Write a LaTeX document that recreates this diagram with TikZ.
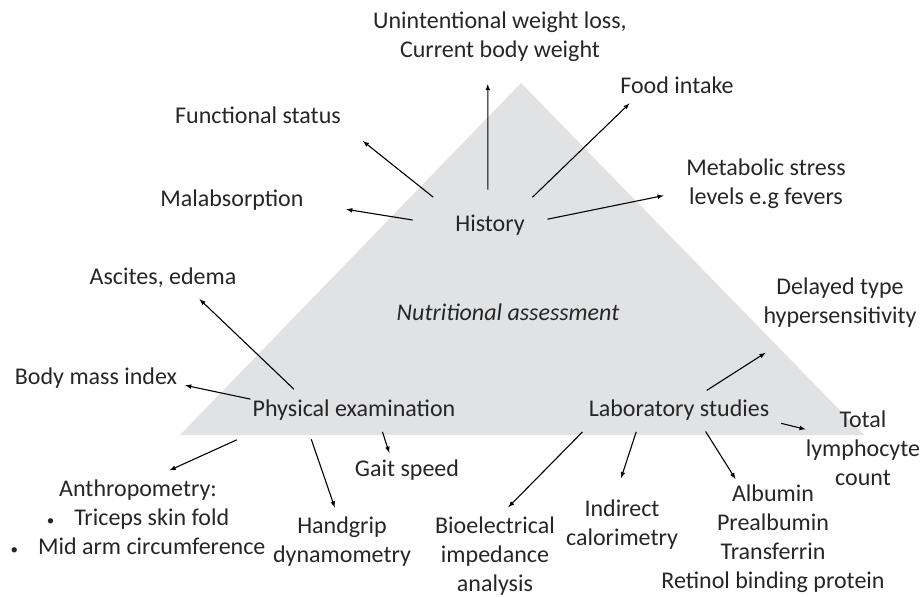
\documentclass[tikz,border=0pt]{standalone}
\usepackage{fontspec}
\setmainfont{Carlito}
\usepackage{tikz}

\definecolor{trigray}{RGB}{225,226,228}
\definecolor{txtgray}{RGB}{38,38,38}
\newcommand{\smbullet}{{\fontsize{15}{15}\selectfont\textbullet}}
\tikzset{
  lbl/.style={inner sep=0pt, align=center, text=txtgray, font=\fontsize{24}{29}\selectfont},
  arr/.style={-latex, line width=1.1pt}
}

\begin{document}
\begin{tikzpicture}[x=1pt,y=-1pt]
		\useasboundingbox (0,0) rectangle (922,597);
		\coordinate (L) at (180,435);
		\coordinate (T) at (521,83);
		\coordinate (R) at (864,435);
		\fill[trigray] (L)--(T)--(R)--cycle;

		\node[lbl] (hist) at (490,225) {History};
		\node[lbl] (unint) at (500,37) {Unintentional weight loss,\\Current body weight};
		\node[lbl] (funct) at (258,115) {Functional status};
		\node[lbl] (malab) at (232,200) {Malabsorption};
		\node[lbl] (food) at (677,85) {Food intake};
		\node[lbl] (metab) at (766,184) {Metabolic stress\\levels e.g fevers};
		\node[lbl] (nutr) at (508,312) {\itshape Nutritional assessment};

		\node[lbl] (phys) at (354,410) {Physical examination};
		\node[lbl] (asc) at (163,278) {Ascites, edema};
		\node[lbl] (bmi) at (96,378) {Body mass index};
		\node[lbl] (anthro) at (138,517) {Anthropometry:\\\smbullet\hspace{20pt}Triceps skin fold\\\smbullet\hspace{20pt}Mid arm circumference};
		\node[lbl] (gait) at (407,470) {Gait speed};
		\node[lbl] (hand) at (342,542) {Handgrip\\dynamometry};

		\node[lbl] (lab) at (679,410) {Laboratory studies};
		\node[lbl] (bio) at (495,556) {Bioelectrical\\impedance\\analysis};
		\node[lbl] (ind) at (622,525) {Indirect\\calorimetry};
		\node[lbl] (alb) at (773,539) {Albumin\\Prealbumin\\Transferrin\\Retinol binding protein};
		\node[lbl] (total) at (863,448) {Total\\lymphocyte\\count};
		\node[lbl] (del) at (840,303) {Delayed type\\hypersensitivity};

		\draw[arr, shorten <=25pt, shorten >=22pt] (hist.101) -- (unint.244);
		\draw[arr, shorten <=28pt, shorten >=28pt] (hist.north west) -- (funct.south east);
		\draw[arr, shorten <=43pt, shorten >=43pt] (hist.183) -- (malab.358);
		\draw[arr, shorten <=25pt, shorten >=14pt] (hist.23) -- (food.193);
		\draw[arr, shorten <=23pt, shorten >=23pt] (hist.2) -- (metab.185);

		\draw[arr, shorten <=15pt, shorten >=16pt] (phys.168) -- (asc.338);
		\draw[arr, shorten <=2pt, shorten >=8pt] (phys.north west) -- (bmi.356);
		\draw[arr, shorten <=47pt, shorten >=22pt] (phys.188) -- (anthro.73);
		\draw[arr, shorten <=20pt, shorten >=10pt] (phys.192) -- (hand.99);
		\draw[arr, shorten <=12pt, shorten >=7pt] (phys.337) -- (gait.146);

		\draw[arr, shorten <=16pt, shorten >=13pt] (lab.187) -- (bio.84);
		\draw[arr, shorten <=12pt, shorten >=23pt] (lab.195) -- (ind.108);
		\draw[arr, shorten <=13pt, shorten >=7pt] (lab.332) -- (alb.122);
		\draw[arr, shorten <=12pt, shorten >=0pt] (lab.south east) -- (total.162);
		\draw[arr, shorten <=17pt, shorten >=46pt] (lab.38) -- (del.215);
\end{tikzpicture}
\end{document}
